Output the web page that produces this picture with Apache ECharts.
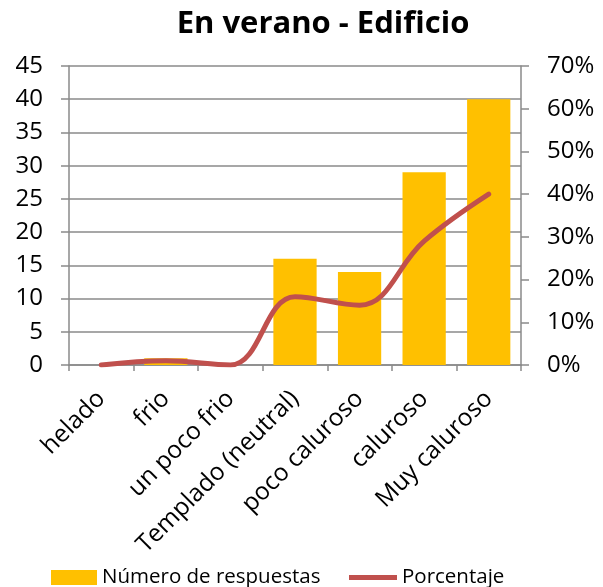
<!DOCTYPE html>
<html><head><meta charset="utf-8">
<script src="https://cdn.jsdelivr.net/npm/echarts@6/dist/echarts.min.js"></script>
<style>html,body{margin:0;padding:0;background:#fff}#c{width:603px;height:587px}</style>
</head><body><div id="c"></div>
<script>
const categories = ['helado','frio','un poco frio','Templado (neutral)','poco caluroso','caluroso','Muy caluroso'];
const respuestas = [0,1,0,16,14,29,40];
const porcentaje = [0,1,0,16,14,29,40];
const leftTicks = {min:0,max:45,interval:5};
const rightTicks = {min:0,max:70,interval:10};
const FONT = '"Open Sans", "Noto Sans", sans-serif';
const GRAY = '#8a8a8a';
const chart = echarts.init(document.getElementById('c'));
const legendText = {fontFamily:FONT,fontSize:20.5,color:'#000',lineHeight:15,padding:[0,0,0,0]};
chart.setOption({
  animation:false,
  title:{text:'En verano - Edificio',left:318,textAlign:'center',top:4,
    textStyle:{fontFamily:FONT,fontWeight:'bold',fontSize:31,color:'#000'}},
  grid:{left:69,right:82,top:66,bottom:222,containLabel:false},
  legend:[
    {left:51,top:567,itemWidth:46,itemHeight:15,padding:0,textStyle:legendText,
     data:[{name:'Número de respuestas',icon:'rect'}]},
    {left:349,top:567,itemWidth:48,itemHeight:15,padding:0,itemGap:0,textStyle:legendText,
     data:[{name:'Porcentaje',icon:'path://M0,0L48,0L48,5L0,5Z'}]}
  ],
  xAxis:{type:'category',data:categories,boundaryGap:true,
    axisLine:{lineStyle:{color:GRAY,width:1.5}},
    axisTick:{show:true,length:6,lineStyle:{color:GRAY,width:1.5}},
    axisLabel:{rotate:45,fontFamily:FONT,fontSize:24.5,color:'#000',margin:30,interval:0}},
  yAxis:[
    {type:'value',min:leftTicks.min,max:leftTicks.max,interval:leftTicks.interval,
     axisLine:{show:true,lineStyle:{color:GRAY,width:1.5}},
     axisTick:{show:true,length:8,lineStyle:{color:GRAY,width:1.5}},
     splitLine:{show:true,lineStyle:{color:GRAY,width:1.5}},
     axisLabel:{fontFamily:FONT,fontSize:24,color:'#000',margin:26}},
    {type:'value',min:rightTicks.min,max:rightTicks.max,interval:rightTicks.interval,position:'right',
     axisLine:{show:true,lineStyle:{color:GRAY,width:1.5}},
     axisTick:{show:true,length:8,lineStyle:{color:GRAY,width:1.5}},
     splitLine:{show:false},
     axisLabel:{fontFamily:FONT,fontSize:24,color:'#000',margin:26,formatter:'{value}%'}}
  ],
  series:[
    {name:'Número de respuestas',type:'bar',data:respuestas,yAxisIndex:0,barCategoryGap:'33%',
     itemStyle:{color:'#FFC000'}},
    {name:'Porcentaje',type:'line',data:porcentaje,yAxisIndex:1,smooth:0.4,symbol:'none',
     lineStyle:{color:'#C0504D',width:5,cap:'round'},itemStyle:{color:'#C0504D'}}
  ]
});
</script></body></html>
